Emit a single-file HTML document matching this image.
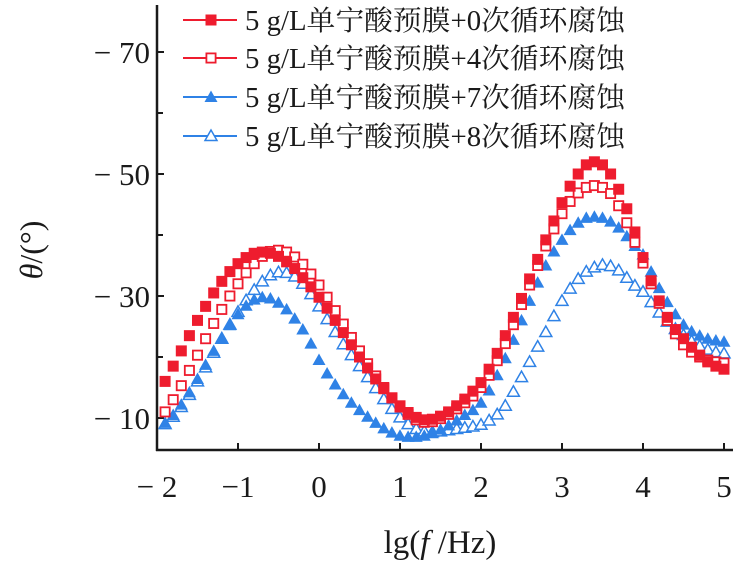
<!DOCTYPE html>
<html><head><meta charset="utf-8"><style>
html,body{margin:0;padding:0;background:#fff;}
svg{display:block;}
text{font-family:"Liberation Serif","Noto Serif CJK SC",serif;fill:#1a1a1a;}
</style></head><body>
<svg id="chart" width="742" height="568" viewBox="0 0 742 568" xmlns="http://www.w3.org/2000/svg">
<g id="axes"></g>
<g id="series"></g>
<g id="legend"></g>
<text transform="translate(42,250) rotate(-90)" text-anchor="middle" font-size="32"><tspan font-style="italic">θ</tspan>/(°)</text>
<text x="440" y="553" text-anchor="middle" font-size="33">lg(<tspan font-style="italic">f</tspan> /Hz)</text>
</svg>
<script>
const xStart = -1.9, xStep = 0.1;
const xTicks = [-2,-1,0,1,2,3,4,5];
const xTickLabels = ["− 2","−1","0","1","2","3","4","5"];
const yTicks = [10,30,50,70];
const yTickLabels = ["− 10","− 30","− 50","− 70"];
const yMinorTicks = [20,40,60];
const seriesNames = ["5 g/L单宁酸预膜+0次循环腐蚀","5 g/L单宁酸预膜+4次循环腐蚀","5 g/L单宁酸预膜+7次循环腐蚀","5 g/L单宁酸预膜+8次循环腐蚀"];
const s0 = [16,18.5,21,23.5,26,28.3,30.5,32.4,34,35.3,36.3,37,37.2,37,36.5,35.6,34.5,33,31.5,29.8,28,26,24,22,20,18.2,16.4,14.8,13.3,12,10.9,10.1,9.7,9.8,10.3,11,12,13.1,14.4,15.8,18,20.6,23.5,26.5,29.6,32.8,36,39.2,42.3,45.3,48,50,51.5,52,51.5,50,47.5,44.3,40.5,36.3,32.5,29.2,26.5,24.5,23,21.6,20.3,19.2,18.5,18];
const s4 = [11,13,15.3,17.8,20.3,23,25.5,27.8,30,32,33.8,35.3,36.5,37.3,37.5,37.2,36.4,35.2,33.6,31.8,29.8,27.6,25.4,23.2,21,18.9,16.9,15,13.3,11.8,10.6,9.7,9.3,9.4,9.9,10.6,11.5,12.5,13.6,15,17,19.4,22.2,25.3,28.6,31.8,35,38.2,41,43.5,45.5,46.9,47.8,48.1,47.8,46.8,44.8,42,38.8,35.4,32,28.8,26,23.8,22,20.8,20,19.5,19.2,19];
const s7 = [9.2,10.5,12.2,14.2,16.4,18.7,21,23.2,25.2,27,28.4,29.4,29.8,29.6,28.9,27.8,26.3,24.5,22.2,19.5,17.3,15.5,13.9,12.5,11.3,10.2,9.2,8.3,7.6,7.1,6.9,6.9,7.1,7.5,8.1,8.8,9.6,10.5,11.3,12.5,14.5,17,19.8,22.8,26,29.2,32.2,35,37.3,39.2,40.8,42,42.8,43,42.8,42.2,41.2,39.8,38.2,36.8,34,31.3,29,27,25.3,24.2,23.5,23,22.7,22.5];
const s8 = [9,10.2,11.8,13.8,16,18.3,20.7,23,25.3,27.4,29.3,31,32.4,33.4,33.9,33.8,33.2,32,30.3,28.3,26.2,24.1,22.1,20.3,18.5,16.7,14.9,13.1,11.5,10.1,9,8.2,7.8,7.7,7.8,8,8.2,8.4,8.6,8.9,9.6,10.6,12,14.3,16.7,19.2,21.7,24.1,26.7,29.2,31.2,32.8,34,34.7,35.1,34.9,34.2,33,31.7,30.7,29,27.3,25.8,24.6,23.6,22.6,21.8,21.2,20.8,20.6];

const NS = "http://www.w3.org/2000/svg";
const X0 = 157, PX = 81, Y70 = 52, PY = 6.1;
function sx(v){ return X0 + (v + 2) * PX; }
function sy(v){ return Y70 + (70 - v) * PY; }
function mk(tag, attrs, parent){ const e = document.createElementNS(NS, tag); for (const k in attrs) e.setAttribute(k, attrs[k]); parent.appendChild(e); return e; }

const axes = document.getElementById('axes');
const yAxis = mk('line', {x1:X0, y1:5, x2:X0, y2:451, stroke:'#1a1a1a', 'stroke-width':2.5}, axes);


const xAxis = mk('line', {x1:X0-1, y1:450, x2:733, y2:450, stroke:'#1a1a1a', 'stroke-width':2.5}, axes);


xTicks.forEach((t, i) => {
  const tk = mk('line', {x1:sx(t), y1:450, x2:sx(t), y2:443, stroke:'#1a1a1a', 'stroke-width':2}, axes);
  
  
  const lb = mk('text', {x:sx(t), y:497, 'text-anchor':'middle', 'font-size':31}, axes);
  lb.textContent = xTickLabels[i];
  
  
});
yTicks.forEach((t, i) => {
  const tk = mk('line', {x1:X0, y1:sy(t), x2:X0+7, y2:sy(t), stroke:'#1a1a1a', 'stroke-width':2}, axes);
  
  
  const lb = mk('text', {x:X0-7, y:sy(t)+11, 'text-anchor':'end', 'font-size':31}, axes);
  lb.textContent = yTickLabels[i];
  
  
});
yMinorTicks.forEach(t => {
  const tk = mk('line', {x1:X0, y1:sy(t), x2:X0+6, y2:sy(t), stroke:'#1a1a1a', 'stroke-width':2}, axes);
  
  
});

const RED = '#ee1c2e', BLUE = '#2f82e6';
function marker(parent, type, cx, cy, color){
  let e;
  if (type === 'sq-f') e = mk('rect', {x:cx-5.5, y:cy-5.5, width:11, height:11, fill:color}, parent);
  else if (type === 'sq-o') e = mk('rect', {x:cx-4.6, y:cy-4.6, width:9.2, height:9.2, fill:'#fff', stroke:color, 'stroke-width':1.8}, parent);
  else if (type === 'tri-f') e = mk('polygon', {points:`${cx},${cy-6.5} ${cx-6.5},${cy+5} ${cx+6.5},${cy+5}`, fill:color}, parent);
  else e = mk('polygon', {points:`${cx},${cy-6} ${cx-6},${cy+4.5} ${cx+6},${cy+4.5}`, fill:'#fff', stroke:color, 'stroke-width':1.5}, parent);
  return e;
}
const seriesGroup = document.getElementById('series');
const defs = [
  {data:s8, type:'tri-o', color:BLUE, name:'series-8-cycles'},
  {data:s7, type:'tri-f', color:BLUE, name:'series-7-cycles'},
  {data:s4, type:'sq-o', color:RED, name:'series-4-cycles'},
  {data:s0, type:'sq-f', color:RED, name:'series-0-cycles'}
];
defs.forEach(d => {
  const g = mk('g', {}, seriesGroup);
  
  
  d.data.forEach((v, i) => {
    const m = marker(g, d.type, sx(xStart + i * xStep), sy(v), d.color);
    
    
  });
});

const legend = document.getElementById('legend');
const legTypes = ['sq-f','sq-o','tri-f','tri-o'];
const legColors = [RED, RED, BLUE, BLUE];
const legY = [20, 58, 97, 136];
seriesNames.forEach((n, i) => {
  const g = mk('g', {}, legend);
  
  
  mk('line', {x1:183, y1:legY[i], x2:237, y2:legY[i], stroke:legColors[i], 'stroke-width':2}, g);
  marker(g, legTypes[i], 211, legY[i], legColors[i]);
  const t = mk('text', {x:245, y:legY[i]+10, 'font-size':28, textLength:380, lengthAdjust:'spacingAndGlyphs'}, g);
  t.textContent = n;
  
  
});
</script>
</body></html>
